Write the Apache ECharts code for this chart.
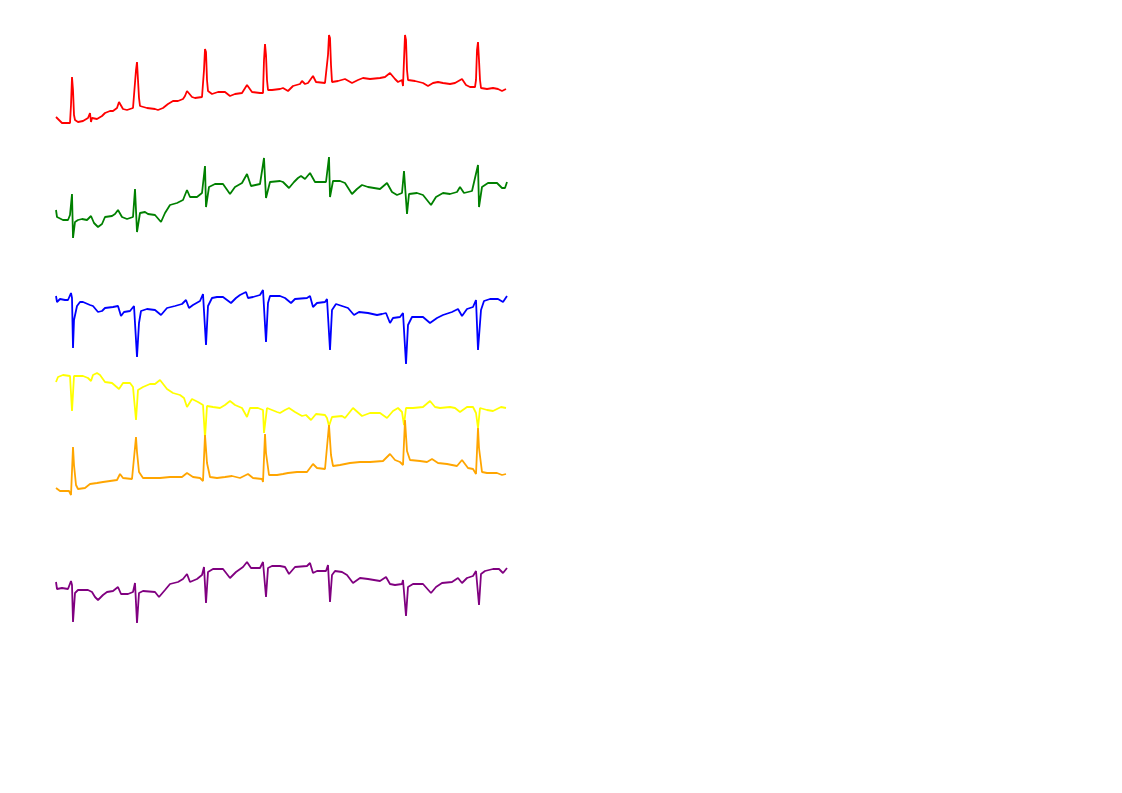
<!DOCTYPE html>
<html><head><meta charset="utf-8">
<script src="https://cdn.jsdelivr.net/npm/echarts@6/dist/echarts.min.js"></script>
<style>html,body{margin:0;padding:0;background:#fff}#c{width:1122px;height:793px}</style>
</head><body><div id="c"></div>
<script>
// sample index (time) and amplitude pairs per lead
const leadNames = ['I','II','III','aVR','aVL','aVF'];
const leadColors = ['#ff0000','#008000','#0000ff','#ffff00','#ffa500','#800080'];
const leadOffsets = [693,593,473,393,323,203];

const lead1 = [[1,-17],[7,-23],[15,-23],[16,-5],[17,23],[18,10],[19,-15],[20,-20],[23,-22],[28,-21],[33,-18],[35,-13],[36,-22],[37,-18],[42,-19],[47,-16],[50,-13],[55,-11],[58,-11],[62,-8],[64,-2],[68,-9],[72,-10],[78,-8],[80,-8],[81,30],[82,38],[83,20],[84,2],[85,-6],[87,-6],[92,-8],[100,-9],[103,-10],[108,-8],[113,-4],[118,-1],[123,-1],[128,1],[130,4],[132,9],[137,3],[140,2],[147,3],[148,2],[149,30],[150,51],[151,48],[152,20],[153,9],[154,8],[157,6],[163,8],[170,8],[175,4],[180,6],[187,7],[192,15],[197,8],[205,7],[208,7],[209,40],[210,56],[211,45],[212,20],[213,10],[214,8],[215,8],[217,10],[225,11],[228,12],[233,9],[238,14],[245,16],[247,19],[250,16],[253,17],[258,24],[261,18],[263,17],[270,17],[272,17],[273,45],[274,65],[275,62],[276,35],[277,18],[278,20],[283,19],[290,21],[297,17],[303,20],[308,22],[315,21],[325,22],[330,23],[335,27],[340,21],[343,18],[347,20],[348,14],[349,40],[350,65],[351,60],[352,30],[353,20],[355,20],[360,19],[368,17],[373,14],[378,17],[383,18],[388,17],[395,16],[400,17],[407,21],[411,15],[415,13],[420,13],[421,20],[422,50],[423,58],[424,40],[425,20],[426,12],[432,11],[438,12],[443,11],[447,9],[451,11]];

const lead2 = [[1,-10],[2,-17],[8,-20],[13,-20],[15,-15],[17,6],[18,-38],[20,-22],[23,-20],[27,-19],[32,-20],[36,-16],[39,-23],[43,-27],[47,-24],[50,-17],[57,-16],[60,-14],[63,-10],[67,-17],[72,-19],[78,-17],[80,11],[82,-32],[85,-13],[90,-12],[93,-14],[100,-15],[106,-22],[110,-13],[115,-5],[122,-3],[128,0],[132,10],[135,3],[142,3],[147,7],[150,34],[151,-7],[154,13],[160,16],[168,16],[175,6],[180,13],[187,17],[192,26],[196,14],[205,16],[209,42],[211,2],[215,18],[225,19],[228,18],[234,12],[239,18],[243,22],[246,24],[250,21],[255,27],[260,18],[265,18],[271,18],[274,43],[275,3],[278,19],[285,19],[290,17],[297,6],[302,11],[307,15],[313,13],[325,11],[332,17],[337,8],[342,5],[347,7],[349,29],[352,-14],[354,6],[362,7],[368,5],[376,-5],[381,3],[388,7],[395,6],[402,8],[405,13],[409,7],[417,9],[423,35],[424,-7],[427,13],[433,17],[442,17],[447,12],[450,12],[452,18]];

const lead3 = [[1,24],[2,18],[5,21],[10,20],[13,20],[16,27],[17,22],[18,-28],[19,0],[22,14],[25,18],[28,18],[35,15],[38,14],[43,8],[47,9],[50,12],[58,13],[63,14],[66,4],[69,8],[75,9],[79,14],[82,-37],[84,-3],[86,9],[92,11],[100,10],[106,5],[112,12],[120,14],[127,16],[131,20],[134,12],[138,15],[145,19],[148,26],[151,-25],[153,14],[157,22],[162,23],[168,23],[172,20],[176,17],[181,22],[185,25],[191,28],[193,22],[198,23],[205,25],[208,30],[211,-22],[213,17],[215,24],[225,24],[230,22],[236,17],[240,21],[252,22],[255,24],[258,13],[262,17],[270,18],[272,21],[275,-30],[277,10],[281,16],[287,14],[293,12],[299,5],[304,8],[313,7],[322,5],[327,6],[331,7],[335,-3],[338,2],[345,3],[348,7],[351,-44],[353,-5],[357,3],[368,3],[375,-3],[382,2],[388,5],[397,8],[403,11],[407,4],[412,11],[418,13],[421,20],[423,-30],[426,10],[429,19],[435,21],[443,21],[448,18],[452,24]];

const lead4 = [[1,18],[3,23],[8,25],[15,24],[17,-11],[19,24],[28,24],[33,22],[36,19],[38,25],[42,27],[45,25],[50,18],[57,17],[64,11],[68,17],[75,17],[78,13],[81,-20],[83,10],[88,13],[95,16],[100,16],[105,20],[112,11],[118,7],[125,5],[129,2],[132,-7],[137,1],[143,-2],[148,-5],[150,-38],[152,-6],[158,-7],[165,-8],[170,-5],[175,-1],[180,-5],[187,-8],[192,-17],[195,-8],[203,-8],[208,-10],[209,-33],[212,-8],[217,-10],[222,-12],[225,-13],[230,-10],[234,-8],[240,-12],[247,-16],[251,-15],[256,-20],[261,-14],[270,-15],[272,-18],[274,-26],[277,-17],[287,-16],[290,-18],[298,-8],[307,-16],[315,-13],[325,-13],[332,-18],[338,-11],[343,-8],[347,-12],[349,-25],[351,-8],[358,-8],[368,-7],[375,-1],[380,-7],[385,-8],[395,-7],[400,-8],[405,-12],[412,-7],[418,-7],[421,-13],[423,-28],[425,-8],[432,-10],[438,-11],[446,-7],[451,-8]];

const lead5 = [[1,-18],[5,-21],[14,-21],[16,-25],[18,23],[19,5],[21,-15],[23,-19],[30,-18],[35,-14],[42,-13],[48,-12],[55,-11],[62,-10],[65,-4],[68,-8],[77,-9],[81,33],[82,18],[84,-2],[88,-8],[95,-8],[105,-8],[115,-7],[127,-7],[132,-3],[138,-7],[145,-8],[148,-11],[150,35],[152,7],[155,-7],[162,-8],[170,-7],[177,-6],[185,-8],[193,-4],[198,-8],[207,-9],[208,-12],[210,36],[211,17],[214,-5],[222,-5],[228,-4],[233,-3],[242,-2],[252,-2],[258,6],[262,2],[270,1],[272,-1],[274,45],[276,15],[278,4],[285,5],[295,7],[305,8],[315,8],[328,9],[335,16],[340,10],[345,8],[348,5],[350,50],[352,19],[355,10],[365,9],[372,8],[377,11],[383,7],[392,6],[402,4],[407,10],[413,2],[418,1],[421,-4],[423,42],[424,22],[427,-2],[432,-3],[442,-3],[447,-5],[451,-4]];

const lead6 = [[1,8],[2,1],[7,2],[13,1],[16,9],[17,5],[18,-32],[20,-3],[23,0],[33,0],[37,-2],[40,-7],[43,-10],[48,-5],[52,-2],[58,-1],[63,3],[66,-4],[73,-4],[78,-2],[80,7],[82,-33],[84,-3],[88,-1],[100,-2],[104,-7],[110,0],[115,6],[123,8],[128,11],[132,16],[135,8],[142,11],[147,15],[149,23],[151,-13],[153,18],[158,21],[168,21],[175,12],[181,18],[188,23],[192,28],[196,22],[205,22],[208,28],[211,-7],[213,22],[217,24],[225,24],[230,23],[234,16],[240,23],[252,24],[255,27],[258,17],[262,19],[271,19],[273,25],[275,-12],[277,15],[280,19],[287,18],[292,15],[298,7],[305,12],[313,11],[325,9],[331,13],[335,6],[340,5],[347,6],[348,10],[351,-26],[353,3],[358,6],[368,6],[376,-3],[381,3],[387,7],[397,8],[403,12],[407,7],[412,12],[418,14],[421,19],[424,-15],[426,16],[430,19],[438,21],[444,21],[448,17],[452,22]];

const leads = [lead1, lead2, lead3, lead4, lead5, lead6];

const chart = echarts.init(document.getElementById('c'));
chart.setOption({
  animation: false,
  backgroundColor: '#ffffff',
  grid: { left: 55, right: 615, top: 0, bottom: 0 },
  xAxis: { type: 'value', min: 0, max: 452, show: false },
  yAxis: { type: 'value', min: 0, max: 793, show: false },
  series: leads.map((d, i) => ({
    name: leadNames[i],
    type: 'line',
    symbol: 'none',
    data: d.map(p => [p[0], p[1] + leadOffsets[i]]),
    lineStyle: { color: leadColors[i], width: 1.8 },
    itemStyle: { color: leadColors[i] }
  }))
});
</script></body></html>
